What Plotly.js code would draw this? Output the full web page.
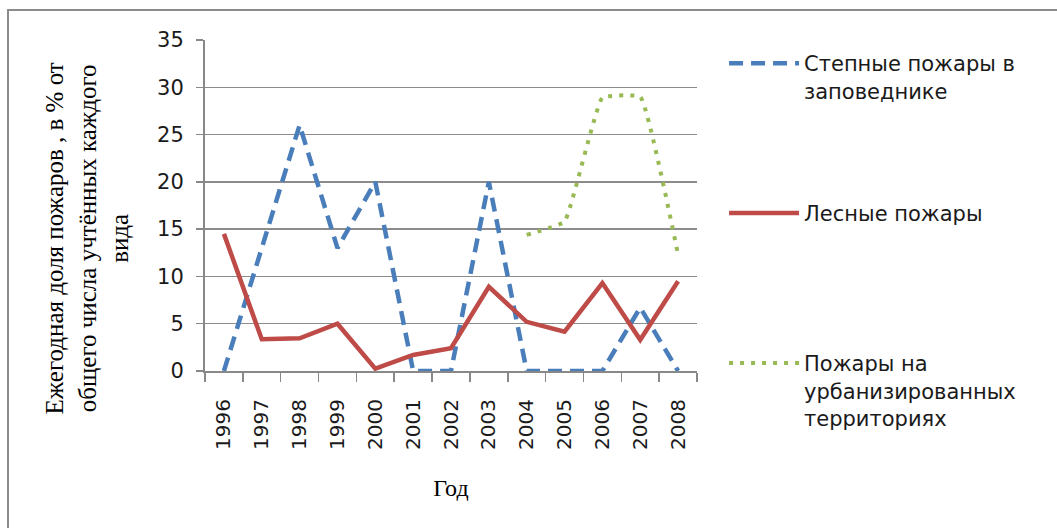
<!DOCTYPE html>
<html>
<head>
<meta charset="utf-8">
<script src="https://cdn.plot.ly/plotly-3.0.1.min.js"></script>
<style>
  html, body { margin: 0; padding: 0; background: #fff; overflow: hidden; }
  #frame { position: absolute; left: 7px; top: 9px; width: 1100px; height: 600px;
           border-left: 2px solid #8c8c8c; border-top: 2px solid #8c8c8c; }
  #chart { position: absolute; left: 0; top: 0; width: 1057px; height: 528px; }
</style>
</head>
<body>
<div id="frame"></div>
<div id="chart"></div>
<script>
const years = ["1996","1997","1998","1999","2000","2001","2002","2003","2004","2005","2006","2007","2008"];
const steppeFires = [0, 13, 26, 13, 20, 0, 0, 20, 0, 0, 0, 6.7, 0];
const forestFires = [14.5, 3.35, 3.45, 5, 0.25, 1.7, 2.4, 8.9, 5.2, 4.15, 9.3, 3.3, 9.5];
const urbanFires = [null, null, null, null, null, null, null, null, 14.4, 15.8, 28.9, 29, 12.3];
const seriesNames = ["Степные пожары в<br>заповеднике", "Лесные пожары", "Пожары на<br>урбанизированных<br>территориях"];
const yTitle = "Ежегодная доля пожаров , в % от<br>общего числа учтённых каждого<br>вида";
const xTitle = "Год";

const sans = "DejaVu Sans, sans-serif";
const serif = "Liberation Serif, Times New Roman, serif";

const traces = [
  { x: years, y: steppeFires, name: seriesNames[0], type: "scatter", mode: "lines",
    legend: "legend", line: { color: "#4a7ebb", width: 4.5, dash: "14px,8px" } },
  { x: years, y: forestFires, name: seriesNames[1], type: "scatter", mode: "lines",
    legend: "legend2", line: { color: "#be4b48", width: 4.5 } },
  { x: years, y: urbanFires, name: seriesNames[2], type: "scatter", mode: "lines",
    legend: "legend3", line: { color: "#98b954", width: 4, dash: "4px,7px", shape: "spline", smoothing: 0.3 } }
];

const legendBase = {
  x: 1.055, xanchor: "left", xref: "paper", yanchor: "top",
  font: { family: sans, size: 21, color: "#1a1a1a" },
  valign: "top", itemwidth: 70, bgcolor: "rgba(0,0,0,0)"
};

const layout = {
  width: 1057, height: 528,
  margin: { l: 205, r: 360, t: 40, b: 157 },
  paper_bgcolor: "rgba(0,0,0,0)", plot_bgcolor: "rgba(0,0,0,0)",
  showlegend: true,
  legend: Object.assign({}, legendBase, { y: 0.991 }),
  legend2: Object.assign({}, legendBase, { y: 0.538 }),
  legend3: Object.assign({}, legendBase, { y: 0.085 }),
  xaxis: {
    type: "category", range: [-0.5, 12.5], tickangle: -90,
    tickfont: { family: sans, size: 20, color: "#1a1a1a" },
    showline: true, linecolor: "#888", linewidth: 2,
    ticks: "outside", ticklen: 9, tickcolor: "#888", tickwidth: 1.5,
    tickson: "boundaries", showgrid: false, zeroline: false,
    ticklabelstandoff: 18,
    title: { text: xTitle, font: { family: serif, size: 24, color: "#000" }, standoff: 30 }
  },
  yaxis: {
    range: [0, 35], dtick: 5, tick0: 0,
    tickfont: { family: sans, size: 21, color: "#1a1a1a" },
    showline: true, linecolor: "#888", linewidth: 2,
    ticks: "outside", ticklen: 7, tickcolor: "#888", tickwidth: 1.5,
    showgrid: true, gridcolor: "#8c8c8c", gridwidth: 1.5, zeroline: false,
    ticklabelstandoff: 8
  },
  annotations: [
    { text: yTitle, xref: "paper", yref: "paper", x: -0.24, y: 0.5, yshift: -33,
      xanchor: "center", yanchor: "middle", textangle: -90, showarrow: false,
      font: { family: serif, size: 25, color: "#000" } }
  ]
};

Plotly.newPlot("chart", traces, layout, { displayModeBar: false, staticPlot: true });
</script>
</body>
</html>
